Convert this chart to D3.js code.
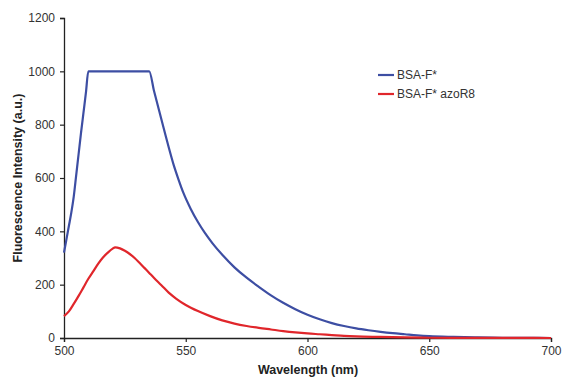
<!DOCTYPE html>
<html>
<head>
<meta charset="utf-8">
<script src="https://cdn.jsdelivr.net/npm/d3@7"></script>
<style>
  body { margin: 0; background: #fff; }
  text { font-family: "Liberation Sans", Arial, sans-serif; }
</style>
</head>
<body>
<div id="chart"></div>
<script>
// Data
var seriesNames = ["BSA-F*", "BSA-F* azoR8"];

var blueWl  = [500, 501, 502, 503, 504, 505, 506, 507, 508, 509, 510, 535, 537, 539, 541, 543, 545, 547, 549, 552, 555, 558, 561, 565, 570, 575, 580, 585, 590, 595, 600, 605, 610, 615, 620, 625, 630, 635, 640, 645, 650, 660, 670, 680, 690, 700];
var blueVal = [320, 370, 420, 470, 530, 610, 690, 770, 845, 920, 1000, 1000, 925, 855, 785, 715, 650, 595, 545, 485, 435, 392, 355, 312, 265, 226, 192, 160, 132, 108, 87, 70, 56, 45, 36, 29, 23, 18, 14, 10, 7, 4, 2, 1, 0.5, 0];

var redWl  = [500, 502, 504, 506, 508, 510, 512, 514, 516, 518, 520, 521, 523, 525, 527, 529, 531, 533, 535, 537, 540, 543, 546, 550, 555, 560, 565, 570, 575, 580, 585, 590, 595, 600, 605, 610, 615, 620, 630, 640, 650, 670, 700];
var redVal = [82, 100, 128, 158, 190, 222, 250, 278, 302, 320, 335, 340, 336, 327, 315, 300, 282, 263, 244, 225, 198, 170, 148, 124, 101, 82, 66, 54, 45, 38, 32, 26, 21, 17, 14, 11, 8, 6, 4, 2, 1, 0.5, 0];

var xTicks = [500, 550, 600, 650, 700];
var yTicks = [0, 200, 400, 600, 800, 1000, 1200];
var colors = ["#3d4ea3", "#e0262b"];

// Set up chart area
var svgWidth = 562;
var svgHeight = 379;
var margin = { top: 18, right: 11, bottom: 41, left: 64 };
var width = svgWidth - margin.left - margin.right;
var height = svgHeight - margin.top - margin.bottom;

var svg = d3.select("#chart")
  .append("svg")
  .attr("width", svgWidth)
  .attr("height", svgHeight);

var chartGroup = svg.append("g")
  .attr("transform", `translate(${margin.left}, ${margin.top})`);

var xScale = d3.scaleLinear().domain([500, 700]).range([0, width]);
var yScale = d3.scaleLinear().domain([0, 1200]).range([height, 0]);

// Axes
var bottomAxis = d3.axisBottom(xScale).tickValues(xTicks).tickFormat(d3.format("d")).tickSize(4).tickPadding(4);
var leftAxis = d3.axisLeft(yScale).tickValues(yTicks).tickFormat(d3.format("d")).tickSize(4).tickPadding(5);

var xAxisG = chartGroup.append("g")
  .attr("transform", `translate(0, ${height})`)
  .call(bottomAxis);
var yAxisG = chartGroup.append("g").call(leftAxis);

[xAxisG, yAxisG].forEach(function(g) {
  g.select(".domain").attr("stroke", "#222").attr("stroke-width", 1.3);
  g.selectAll(".tick line").attr("stroke", "#222").attr("stroke-width", 1.2);
  g.selectAll(".tick text").attr("fill", "#333").style("font-size", "12px");
});

// Lines
var line = d3.line()
  .x(d => xScale(d[0]))
  .y(d => yScale(d[1]))
  .curve(d3.curveMonotoneX);

var series = [
  d3.zip(blueWl, blueVal),
  d3.zip(redWl, redVal)
];

series.forEach(function(s, i) {
  chartGroup.append("path")
    .datum(s)
    .attr("fill", "none")
    .attr("stroke", colors[i])
    .attr("stroke-width", 2.2)
    .attr("stroke-linejoin", "round")
    .attr("d", line);
});

// Legend
var legend = svg.append("g").attr("transform", "translate(378, 75)");
seriesNames.forEach(function(name, i) {
  var row = legend.append("g").attr("transform", `translate(0, ${i * 19})`);
  row.append("line")
    .attr("x1", 0).attr("x2", 16)
    .attr("y1", 0).attr("y2", 0)
    .attr("stroke", colors[i])
    .attr("stroke-width", 2.2);
  row.append("text")
    .attr("x", 19)
    .attr("y", 4)
    .attr("fill", "#333")
    .style("font-size", "12px")
    .text(name);
});

// Axis labels
svg.append("text")
  .attr("transform", "translate(22, 178) rotate(-90)")
  .attr("text-anchor", "middle")
  .attr("fill", "#222")
  .style("font-weight", "bold")
  .style("font-size", "12.5px")
  .text("Fluorescence Intensity (a.u.)");

svg.append("text")
  .attr("x", 308)
  .attr("y", 374)
  .attr("text-anchor", "middle")
  .attr("fill", "#222")
  .style("font-weight", "bold")
  .style("font-size", "12.5px")
  .text("Wavelength (nm)");
</script>
</body>
</html>
